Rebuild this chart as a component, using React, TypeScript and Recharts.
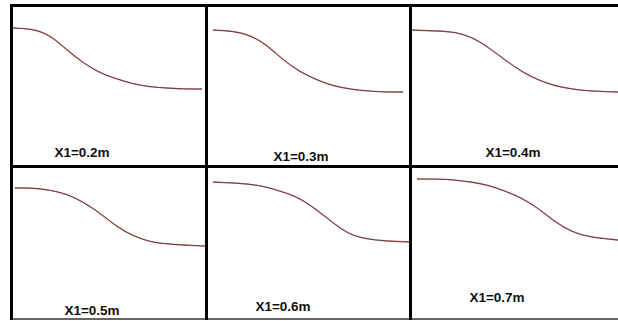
import { LineChart, Line, XAxis, YAxis } from 'recharts';

// Six profile panels, one per X1 distance. Distance and elevation are given in
// percent of each panel's span (the source image has no axes).
const labels = ['X1=0.2m', 'X1=0.3m', 'X1=0.4m', 'X1=0.5m', 'X1=0.6m', 'X1=0.7m'];

const dist02 = [0, 10.4, 19.3, 28.1, 36.5, 45.3, 54.2, 62.5, 71.4, 80.2, 88.5, 98.4];
const elev02 = [86.7, 86.1, 82.3, 72.8, 64.6, 58.2, 54.4, 51.3, 49.4, 48.7, 48.1, 48.1];

const dist03 = [2.5, 12.4, 20.9, 29.4, 37.3, 45.8, 54.2, 62.2, 70.6, 79.1, 87.1, 97.0];
const elev03 = [85.4, 84.8, 82.3, 75.9, 66.5, 58.9, 53.8, 50.0, 48.1, 46.8, 46.2, 46.2];

const dist04 = [0, 12.6, 20.9, 29.1, 36.9, 45.1, 53.4, 61.2, 69.4, 77.7, 85.4, 100];
const elev04 = [85.4, 84.8, 84.2, 81.0, 74.7, 66.5, 58.9, 53.8, 50.0, 48.1, 46.8, 46.2];

const dist05 = [1.0, 10.4, 19.3, 28.1, 36.5, 45.3, 54.2, 62.5, 71.4, 80.2, 88.5, 100];
const elev05 = [86.8, 86.8, 85.4, 82.8, 77.5, 70.2, 60.9, 55.0, 51.0, 49.7, 49.0, 48.3];

const dist06 = [2.5, 12.4, 20.9, 29.4, 37.3, 45.8, 54.2, 62.2, 70.6, 79.1, 87.1, 100];
const elev06 = [90.7, 90.1, 89.4, 87.4, 84.1, 80.1, 72.2, 63.6, 55.6, 53.0, 51.7, 51.0];

const dist07 = [2.4, 12.6, 20.9, 29.1, 36.9, 45.1, 53.4, 61.2, 69.4, 77.7, 85.4, 100];
const elev07 = [92.7, 92.7, 92.1, 90.7, 88.7, 84.8, 80.1, 73.5, 64.2, 57.6, 54.3, 52.3];

const dists = [dist02, dist03, dist04, dist05, dist06, dist07];
const elevs = [elev02, elev03, elev04, elev05, elev06, elev07];

// panel boxes inside the black frame
const cols = [
  { left: 13, width: 192 },
  { left: 208, width: 201 },
  { left: 412, width: 206 },
];
const rows = [
  { top: 7, height: 158 },
  { top: 168, height: 151 },
];
const labelPos = [
  { x: 82, y: 152 },
  { x: 301, y: 156 },
  { x: 513, y: 152 },
  { x: 92, y: 310 },
  { x: 283, y: 306 },
  { x: 497, y: 297 },
];

function Panel({ index }: { index: number }) {
  const col = cols[index % 3];
  const row = rows[Math.floor(index / 3)];
  const data = dists[index].map((s, i) => ({ s, h: elevs[index][i] }));
  return (
    <div style={{ position: 'absolute', left: col.left, top: row.top }}>
      <LineChart width={col.width} height={row.height} data={data} margin={{ top: 0, right: 0, bottom: 0, left: 0 }}>
        <XAxis type="number" dataKey="s" domain={[0, 100]} hide />
        <YAxis type="number" domain={[0, 100]} hide />
        <Line type="basis" dataKey="h" stroke="#e0404e" strokeOpacity={0.7} strokeWidth={1.4} dot={false} isAnimationActive={false} />
        <Line type="basis" dataKey="h" stroke="#333" strokeWidth={0.8} dot={false} isAnimationActive={false} />
      </LineChart>
    </div>
  );
}

const line = (style: React.CSSProperties) => (
  <div style={{ position: 'absolute', background: '#000', ...style }} />
);

export default function App() {
  return (
    <div style={{ position: 'relative', width: 618, height: 321, background: '#fff', overflow: 'hidden' }}>
      <style>{`body{margin:0}`}</style>
      {labels.map((_, i) => (
        <Panel key={i} index={i} />
      ))}
      {line({ left: 10, top: 4, width: 608, height: 3 })}
      {line({ left: 10, top: 165, width: 608, height: 3 })}
      {line({ left: 10, top: 318, width: 608, height: 2, background: '#666' })}
      {line({ left: 10, top: 4, width: 3, height: 316 })}
      {line({ left: 205, top: 4, width: 3, height: 316 })}
      {line({ left: 409, top: 4, width: 3, height: 316 })}
      {labels.map((t, i) => (
        <div
          key={t}
          style={{
            position: 'absolute',
            left: labelPos[i].x,
            top: labelPos[i].y,
            transform: 'translate(-50%, -50%)',
            fontFamily: '"Liberation Sans", Arial, sans-serif',
            fontWeight: 700,
            fontSize: 13.5,
            color: '#111',
            whiteSpace: 'nowrap',
          }}
        >
          {t}
        </div>
      ))}
    </div>
  );
}
